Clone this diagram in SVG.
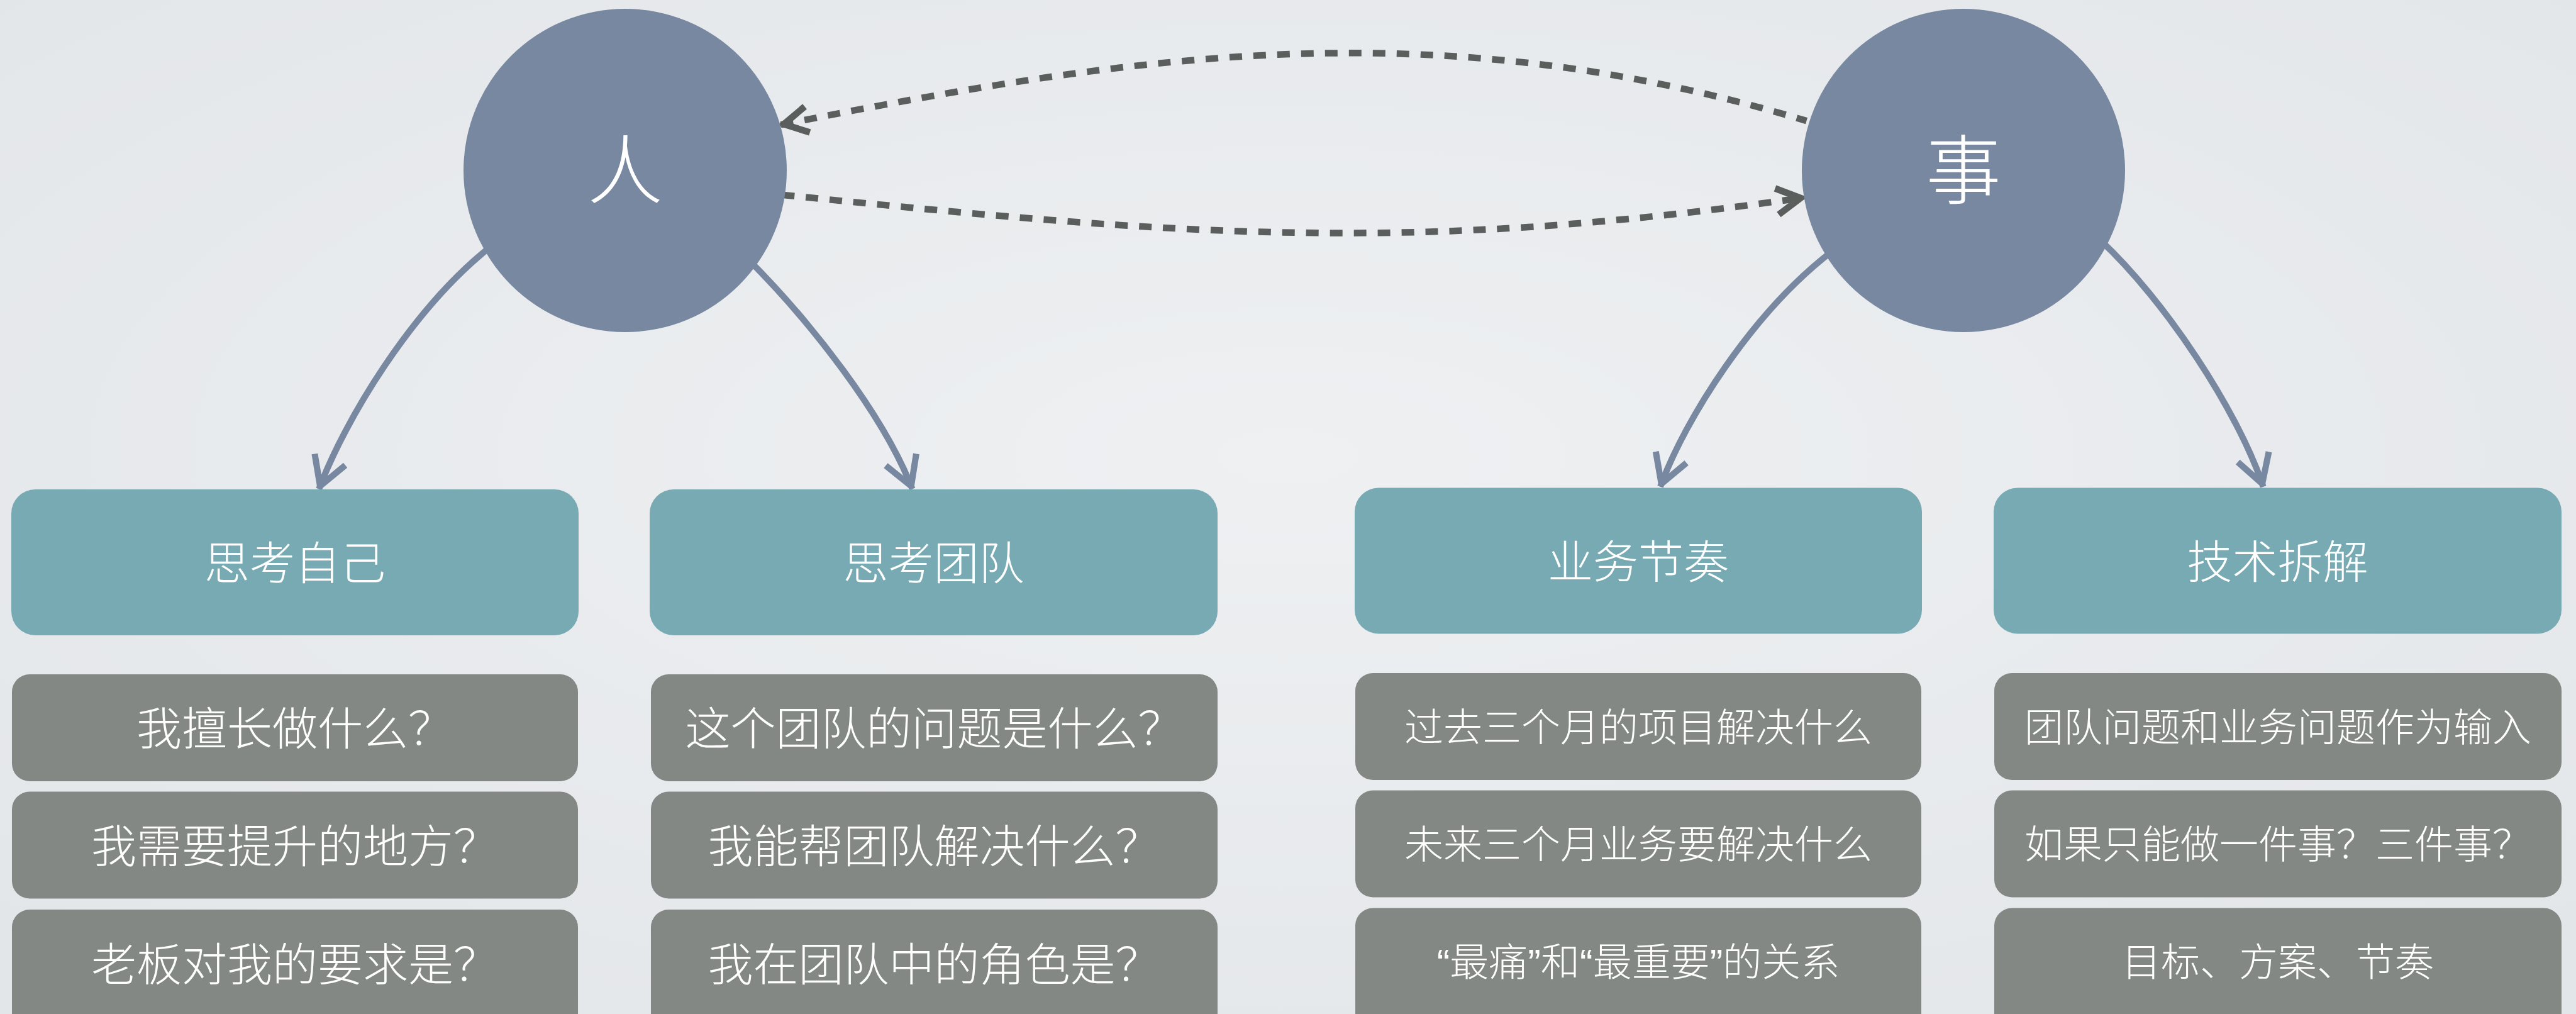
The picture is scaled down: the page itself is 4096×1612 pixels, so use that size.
<svg xmlns="http://www.w3.org/2000/svg" width="4096" height="1612" viewBox="0 0 4096 1612">
<defs>
<style>
.circle{fill:#7788a0}
.clabel{fill:#fff;font-family:'Noto Sans CJK SC',sans-serif;font-size:120px;font-weight:300;text-anchor:middle}
.topic rect{fill:#78aab4}
.item rect{fill:#838885}
.t{fill:#fff;font-family:'Liberation Sans','Noto Sans CJK SC',sans-serif;font-weight:300;text-anchor:middle}
.t72{font-size:72px}
.t62{font-size:62px}
.solid{fill:none;stroke:#7788a0;stroke-width:10}
.dash{fill:none;stroke:#5a5e5c;stroke-width:10.5;stroke-dasharray:20 18}
</style>
<radialGradient id="bgGrad" cx="50%" cy="45%" r="70%">
<stop offset="0" stop-color="#eef0f2"/>
<stop offset="1" stop-color="#e3e6e9"/>
</radialGradient>
<marker id="arrSolid" markerUnits="userSpaceOnUse" orient="auto" viewBox="-70 -40 80 80" markerWidth="80" markerHeight="80" refX="0" refY="0">
<path d="M -50,-26 L -5,0 L -50,26" fill="none" stroke="#7788a0" stroke-width="10" stroke-linejoin="round"/>
</marker>
<marker id="arrDash" markerUnits="userSpaceOnUse" orient="auto-start-reverse" viewBox="-70 -40 80 80" markerWidth="80" markerHeight="80" refX="0" refY="0">
<path d="M -43,-21 L -5,0 L -43,21" fill="none" stroke="#5a5e5c" stroke-width="10.5"/>
</marker>
</defs>
<rect x="0" y="0" width="4096" height="1612" fill="url(#bgGrad)"/>

<g id="connectors">
<path class="solid" d="M 781,391.4 C 654.4,491 547.6,669.6 507.2,777.4" marker-end="url(#arrSolid)"/>
<path class="solid" d="M 1189.4,412 C 1289,511.7 1405.7,660.7 1450.6,777.4" marker-end="url(#arrSolid)"/>
<path class="solid" d="M 2912,400.4 C 2785.4,498.2 2679.5,666 2640,773.8" marker-end="url(#arrSolid)"/>
<path class="solid" d="M 3339.3,381.5 C 3442.5,477.5 3558.3,652.6 3598.7,773.8" marker-end="url(#arrSolid)"/>
<path class="dash" d="M 1241.5,198.4 C 1824.9,81.7 2289,17.1 2872.5,192.1" marker-start="url(#arrDash)"/>
<path class="dash" d="M 1243.2,309.7 C 1877.9,374.3 2239.6,403.9 2868,314.2" marker-end="url(#arrDash)"/>
</g>

<g id="node-ren">
<circle class="circle" cx="994" cy="271" r="257"/>
<text class="clabel" x="994" y="315">人</text>
</g>
<g id="node-shi">
<circle class="circle" cx="3122" cy="271" r="257"/>
<text class="clabel" x="3122" y="315">事</text>
</g>

<g id="topic-self" class="topic">
<rect x="18" y="778" width="902" height="232" rx="38"/>
<text class="t t72" x="469" y="921">思考自己</text>
</g>
<g id="topic-team" class="topic">
<rect x="1033" y="778" width="903" height="232" rx="38"/>
<text class="t t72" x="1484.5" y="921">思考团队</text>
</g>
<g id="topic-biz" class="topic">
<rect x="2154" y="775.5" width="902" height="232" rx="38"/>
<text class="t t72" x="2605" y="918.5">业务节奏</text>
</g>
<g id="topic-tech" class="topic">
<rect x="3170" y="775.5" width="903" height="232" rx="38"/>
<text class="t t72" x="3621.5" y="918.5">技术拆解</text>
</g>

<g id="item-self-1" class="item">
<rect x="19" y="1072" width="900" height="170" rx="28"/>
<text class="t t72" x="469" y="1184">我擅长做什么？</text>
</g>
<g id="item-self-2" class="item">
<rect x="19" y="1258.5" width="900" height="170" rx="28"/>
<text class="t t72" x="469" y="1371">我需要提升的地方？</text>
</g>
<g id="item-self-3" class="item">
<rect x="19" y="1446" width="900" height="200" rx="28"/>
<text class="t t72" x="469" y="1558.5">老板对我的要求是？</text>
</g>

<g id="item-team-1" class="item">
<rect x="1035" y="1072" width="901" height="170" rx="28"/>
<text class="t t72" x="1485.5" y="1184">这个团队的问题是什么？</text>
</g>
<g id="item-team-2" class="item">
<rect x="1035" y="1258.5" width="901" height="170" rx="28"/>
<text class="t t72" x="1485.5" y="1371">我能帮团队解决什么？</text>
</g>
<g id="item-team-3" class="item">
<rect x="1035" y="1446" width="901" height="200" rx="28"/>
<text class="t t72" x="1485.5" y="1558.5">我在团队中的角色是？</text>
</g>

<g id="item-biz-1" class="item">
<rect x="2155" y="1070" width="900" height="170" rx="28"/>
<text class="t t62" x="2605" y="1178.5">过去三个月的项目解决什么</text>
</g>
<g id="item-biz-2" class="item">
<rect x="2155" y="1256.5" width="900" height="170" rx="28"/>
<text class="t t62" x="2605" y="1365">未来三个月业务要解决什么</text>
</g>
<g id="item-biz-3" class="item">
<rect x="2155" y="1443.5" width="900" height="200" rx="28"/>
<text class="t t62" x="2605" y="1552">“最痛”和“最重要”的关系</text>
</g>

<g id="item-tech-1" class="item">
<rect x="3171" y="1070" width="902" height="170" rx="28"/>
<text class="t t62" x="3622" y="1178.5">团队问题和业务问题作为输入</text>
</g>
<g id="item-tech-2" class="item">
<rect x="3171" y="1256.5" width="902" height="170" rx="28"/>
<text class="t t62" x="3622" y="1365">如果只能做一件事？三件事？</text>
</g>
<g id="item-tech-3" class="item">
<rect x="3171" y="1443.5" width="902" height="200" rx="28"/>
<text class="t t62" x="3622" y="1552">目标、方案、节奏</text>
</g>
</svg>
